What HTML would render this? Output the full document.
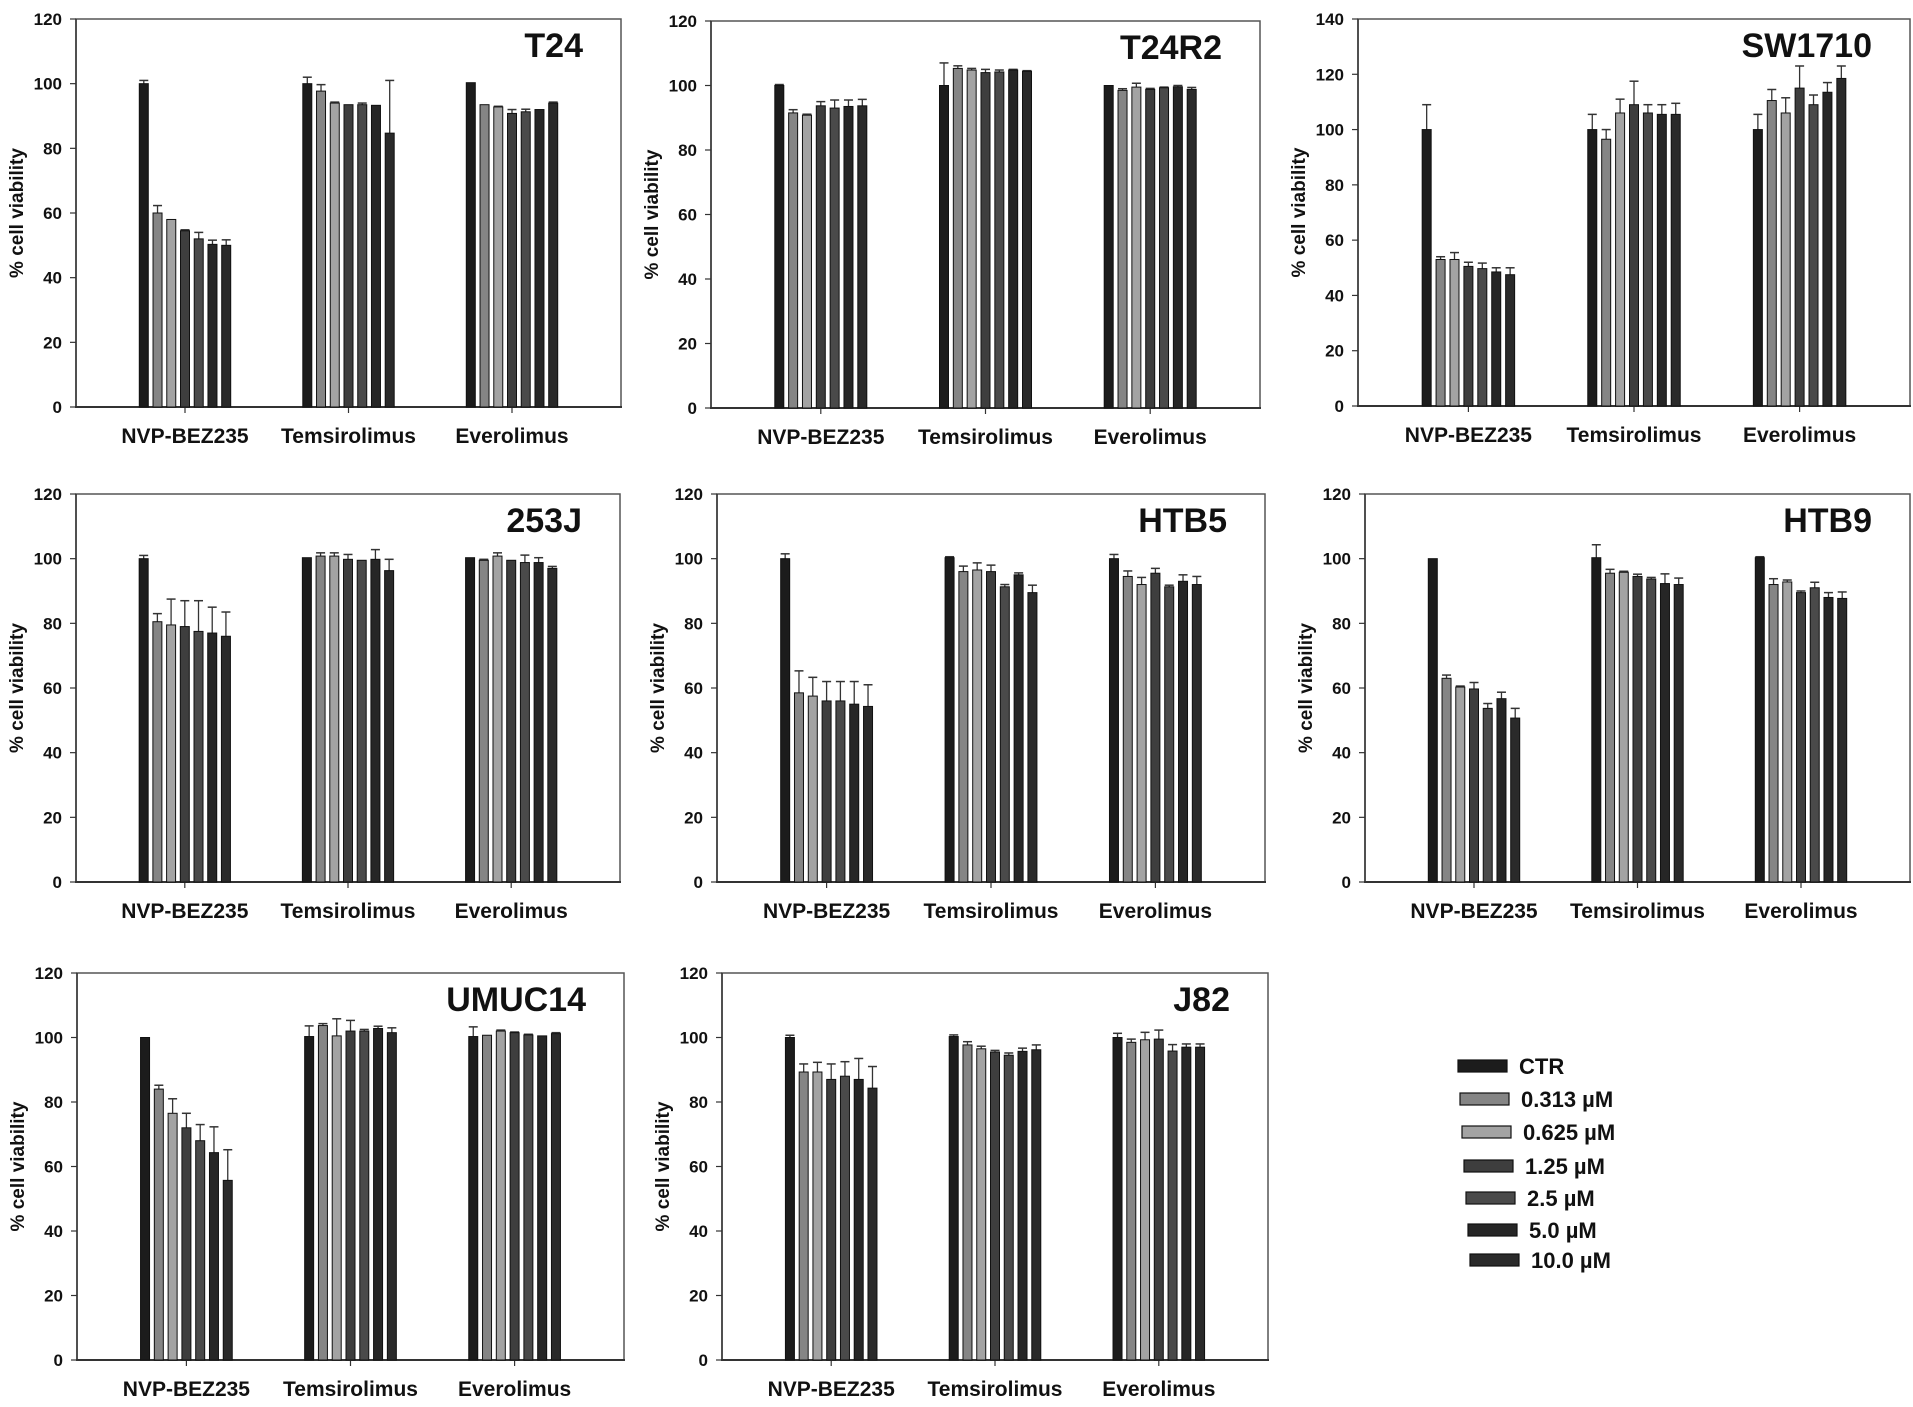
<!DOCTYPE html>
<html><head><meta charset="utf-8">
<style>
html,body{margin:0;padding:0;background:#fff;}
svg{display:block;font-family:"Liberation Sans",sans-serif;font-weight:bold;}
</style></head>
<body>
<svg id="fig" width="1913" height="1407" viewBox="0 0 1913 1407" xmlns="http://www.w3.org/2000/svg"></svg>
<script>
const categories = ["NVP-BEZ235","Temsirolimus","Everolimus"];
const seriesNames = ["CTR","0.313 µM","0.625 µM","1.25 µM","2.5 µM","5.0 µM","10.0 µM"];
const seriesColors = ["#1c1c1c","#858585","#a3a3a3","#3e3e3e","#4a4a4a","#262626","#2a2a2a"];
const panelTitles = ["T24","T24R2","SW1710","253J","HTB5","HTB9","UMUC14","J82"];
const yMaxes = [120,120,140,120,120,120,120,120];
const yTicks120 = [0,20,40,60,80,100,120];
const yTicks140 = [0,20,40,60,80,100,120,140];

const t24Values = [[100,60,58,54.5,52,50.3,50],[100,97.7,94,93.5,93.5,93.3,84.7],[100.3,93.5,92.8,90.8,91.3,92,94]];
const t24Errors = [[1,2.3,0,0.3,2,1.3,1.7],[2,2,0.3,0,0.5,0,16.3],[0,0,0.2,1.2,0.8,0,0.3]];
const t24r2Values = [[100,91.5,90.8,93.7,93,93.5,93.7],[100,105.3,104.8,104,104.2,104.8,104.4],[100,98.5,99.5,98.8,99.3,99.6,98.8]];
const t24r2Errors = [[0.3,1,0.3,1.3,2.5,2,2],[7,0.8,0.5,1,0.6,0.2,0.2],[0,0.5,1.2,0.3,0.2,0.4,0.6]];
const sw1710Values = [[100,53,53,50.5,49.7,48.5,47.5],[100,96.5,106,109,106,105.5,105.5],[100,110.5,106,115,109,113.5,118.5]];
const sw1710Errors = [[9,1,2.5,1.5,2,1.5,2.5],[5.5,3.5,5,8.5,3,3.5,4],[5.5,4,5.5,8,3.5,3.5,4.5]];
const j253Values = [[100,80.5,79.5,79,77.5,77,76],[100.3,100.8,100.8,99.8,99.5,99.8,96.3],[100.3,99.5,100.8,99.5,98.8,98.8,97]];
const j253Errors = [[1,2.5,8,8,9.5,8,7.5],[0,1,1,1.5,0,3,3.5],[0,0.3,1,0,2.3,1.5,0.6]];
const htb5Values = [[100,58.5,57.5,56,56,55,54.3],[100.3,96,96.5,96,91.3,95,89.5],[100,94.5,92,95.5,91.3,93,92]];
const htb5Errors = [[1.5,6.8,5.8,6,6,7,6.7],[0.3,1.7,2.2,2,0.7,0.6,2.3],[1.3,1.7,2.2,1.5,0.5,2,2.5]];
const htb9Values = [[100,63,60.3,59.7,53.7,56.7,50.7],[100.3,95.5,95.8,94.5,93.7,92.3,92],[100.3,92,92.8,89.5,91,88,87.7]];
const htb9Errors = [[0,1,0.3,2,1.5,2,3],[4,1.2,0.3,0.7,0.5,3,2],[0.3,1.8,0.6,0.5,1.7,1.5,2]];
const umuc14Values = [[100,84,76.5,72,68,64.3,55.7],[100.3,103.7,100.5,102,102,102.8,101.5],[100.3,100.7,102,101.5,100.8,100.5,101.2]];
const umuc14Errors = [[0,1.2,4.5,4.5,5,8,9.5],[3.3,0.6,5.3,3.3,0.5,0.7,1.5],[3,0,0.3,0.2,0.2,0,0.3]];
const j82Values = [[100,89.3,89.3,87,88,87,84.3],[100.3,97.7,96.5,95.5,94.5,95.7,96.2],[100,98.5,99.3,99.5,95.8,97,97]];
const j82Errors = [[0.7,2.5,3,4.8,4.5,6.5,6.7],[0.5,1,0.8,0.5,0.7,1,1.5],[1.3,1,2.3,2.8,2,1,1]];

const allValues = [t24Values,t24r2Values,sw1710Values,j253Values,htb5Values,htb9Values,umuc14Values,j82Values];
const allErrors = [t24Errors,t24r2Errors,sw1710Errors,j253Errors,htb5Errors,htb9Errors,umuc14Errors,j82Errors];

const NS = "http://www.w3.org/2000/svg";
const svg = document.getElementById("fig");
function mk(tag, attrs, parent){const e=document.createElementNS(NS,tag);for(const k in attrs)e.setAttribute(k,attrs[k]);(parent||svg).appendChild(e);return e;}

const boxes = [
 [76,19,621,407],[711,21,1260,408],[1358,19,1910,406],
 [76,494,620,882],[717,494,1265,882],[1365,494,1910,882],
 [77,973,624,1360],[722,973,1268,1360]
];

boxes.forEach((b,pi)=>{
  const [L,T,R,B]=b, W=R-L, H=B-T, ymax=yMaxes[pi];
  const g=mk("g",{});
  
  
  const yS=v=>B-v/ymax*H;
  const xC=i=>L+W*(0.2+0.3*i);
  const pitch=W*0.0252, bw=9;
  const fr=mk("rect",{x:L,y:T,width:W,height:H,fill:"none",stroke:"#555","stroke-width":1.5},g);
  
  
  mk("line",{x1:L-1,y1:B,x2:R+1,y2:B,stroke:"#333","stroke-width":2},g);
  mk("line",{x1:L,y1:T,x2:L,y2:B,stroke:"#333","stroke-width":1.5},g);
  const ticks = ymax===140?yTicks140:yTicks120;
  ticks.forEach(t=>{
    const y=yS(t);
    mk("line",{x1:L-6,y1:y,x2:L,y2:y,stroke:"#333","stroke-width":1.2},g);
    const tx=mk("text",{x:L-14,y:y+6,"text-anchor":"end","font-size":17,fill:"#111"},g);
    tx.textContent=t;
    
    
  });
  const cy=(T+B)/2;
  const yt=mk("text",{x:0,y:0,transform:`translate(${L-53},${cy}) rotate(-90)`,"text-anchor":"middle","font-size":19,fill:"#111"},g);
  yt.textContent="% cell viability";
  
  
  const tt=mk("text",{x:R-38,y:T+38,"text-anchor":"end","font-size":34,fill:"#111"},g);
  tt.textContent=panelTitles[pi];
  
  
  categories.forEach((c,ci)=>{
    const x=xC(ci);
    mk("line",{x1:x,y1:B,x2:x,y2:B+6,stroke:"#333","stroke-width":1.2},g);
    const ct=mk("text",{x:x,y:B+36,"text-anchor":"middle","font-size":21,fill:"#111"},g);
    ct.textContent=c;
    
    
    const vals=allValues[pi][ci], errs=allErrors[pi][ci];
    vals.forEach((v,si)=>{
      const bx=x+(si-3)*pitch-bw/2;
      const yv=yS(v);
      const e=errs[si];
      if(e>0){
        const ye=yS(v+e);
        const el=mk("line",{x1:bx+bw/2,y1:yv,x2:bx+bw/2,y2:ye,stroke:"#333","stroke-width":1.3},g);
        
        
        mk("line",{x1:bx,y1:ye,x2:bx+bw,y2:ye,stroke:"#333","stroke-width":1.5},g);
      }
      const r=mk("rect",{x:bx,y:yv,width:bw,height:B-yv,fill:seriesColors[si],stroke:"#111","stroke-width":1},g);
      
      
    });
  });
});

const lg=mk("g",{});


const legendY=[1066,1099,1132,1166,1198,1230,1260];
seriesNames.forEach((n,i)=>{
  const dx=i*2;
  const r=mk("rect",{x:1458+dx,y:legendY[i]-6,width:49,height:12,fill:seriesColors[i],stroke:"#111","stroke-width":1.2},lg);
  
  
  const t=mk("text",{x:1519+dx,y:legendY[i]+8,"font-size":22,fill:"#111"},lg);
  t.textContent=n;
  
  
});
</script>
</body></html>
